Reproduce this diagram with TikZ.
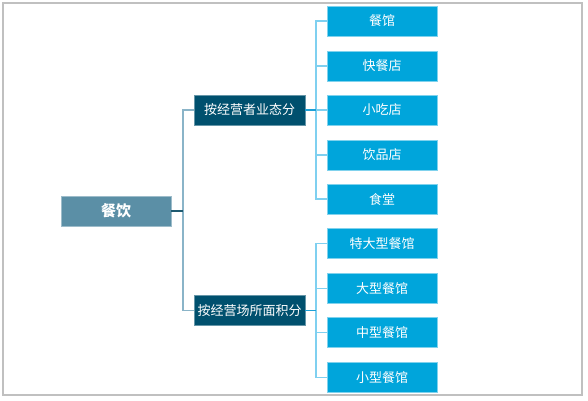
\documentclass[tikz,border=0pt]{standalone}
\usepackage{fontspec}
\setmainfont{Noto Sans CJK SC}
\usepackage{tikz}

\definecolor{rootfill}{HTML}{5B8FA6}
\definecolor{midfill}{HTML}{00506E}
\definecolor{leaffill}{HTML}{00A5DB}
\definecolor{stubcolor}{HTML}{1E5A70}
\definecolor{trunkcolor}{HTML}{8AB4C8}
\definecolor{leafstubcolor}{HTML}{1E9FD6}
\definecolor{leaflinecolor}{HTML}{7FD0F0}
\definecolor{framecolor}{HTML}{C0C0C0}

\tikzset{
    box/.style={minimum height=30pt, inner sep=0pt, text=white,
        font=\fontsize{13}{15}\selectfont, line width=0.6pt},
    rootbox/.style={box, fill=rootfill, draw=rootfill!60!white, minimum width=110pt,
        font=\fontsize{15}{17}\selectfont\bfseries},
    midbox/.style={box, fill=midfill, draw=midfill!60!white, minimum width=111pt},
    leafbox/.style={box, fill=leaffill, draw=leaffill!50!white, minimum width=110pt},
    stubline/.style={draw=stubcolor, line width=1.6pt},
    trunkline/.style={draw=trunkcolor, line width=1.6pt},
    leafstub/.style={draw=leafstubcolor, line width=1.6pt},
    leafline/.style={draw=leaflinecolor, line width=1.6pt}
}

\begin{document}
\begin{tikzpicture}[x=1pt, y=-1pt]
    % 边框
    \useasboundingbox (0,0) rectangle (588,400);
    \draw[framecolor, line width=1.5pt] (3,3) rectangle (582,395);

    % 根节点
    \node[rootbox] at (116,211) (canyin) {餐饮};

    % 两种分类
    \node[midbox] at (249.5,110) (yetai) {按经营者业态分};
    \node[midbox] at (249.5,310.5) (mianji) {按经营场所面积分};

    % 按业态分的各类
    \node[leafbox] at (382,21) (canguan) {餐馆};
    \node[leafbox] at (382,66) (kuaican) {快餐店};
    \node[leafbox] at (382,110) (xiaochi) {小吃店};
    \node[leafbox] at (382,155) (yinpin) {饮品店};
    \node[leafbox] at (382,199) (shitang) {食堂};

    % 按面积分的各类
    \node[leafbox] at (382,243.5) (tedaxing) {特大型餐馆};
    \node[leafbox] at (382,288.5) (daxing) {大型餐馆};
    \node[leafbox] at (382,332.5) (zhongxing) {中型餐馆};
    \node[leafbox] at (382,377.5) (xiaoxing) {小型餐馆};

    % 根节点到两种分类的连线
    \coordinate (root_joint) at (183,211);
    \draw[trunkline] (root_joint) |- (yetai.west);
    \draw[trunkline] (root_joint) |- (mianji.west);
    \draw[stubline] (canyin.east) -- (root_joint);

    % 业态分类到各类的连线
    \coordinate (yetai_joint) at (316,110);
    \draw[leafline] (yetai_joint) |- (canguan.west);
    \draw[leafline] (yetai_joint) |- (kuaican.west);
    \draw[leafline] (yetai_joint) |- (xiaochi.west);
    \draw[leafline] (yetai_joint) |- (yinpin.west);
    \draw[leafline] (yetai_joint) |- (shitang.west);
    \draw[leafstub] (yetai.east) -- (yetai_joint);

    % 面积分类到各类的连线
    \coordinate (mianji_joint) at (316,310.5);
    \draw[leafline] (mianji_joint) |- (tedaxing.west);
    \draw[leafline] (mianji_joint) |- (daxing.west);
    \draw[leafline] (mianji_joint) |- (zhongxing.west);
    \draw[leafline] (mianji_joint) |- (xiaoxing.west);
    \draw[leafstub] (mianji.east) -- (mianji_joint);
\end{tikzpicture}
\end{document}
